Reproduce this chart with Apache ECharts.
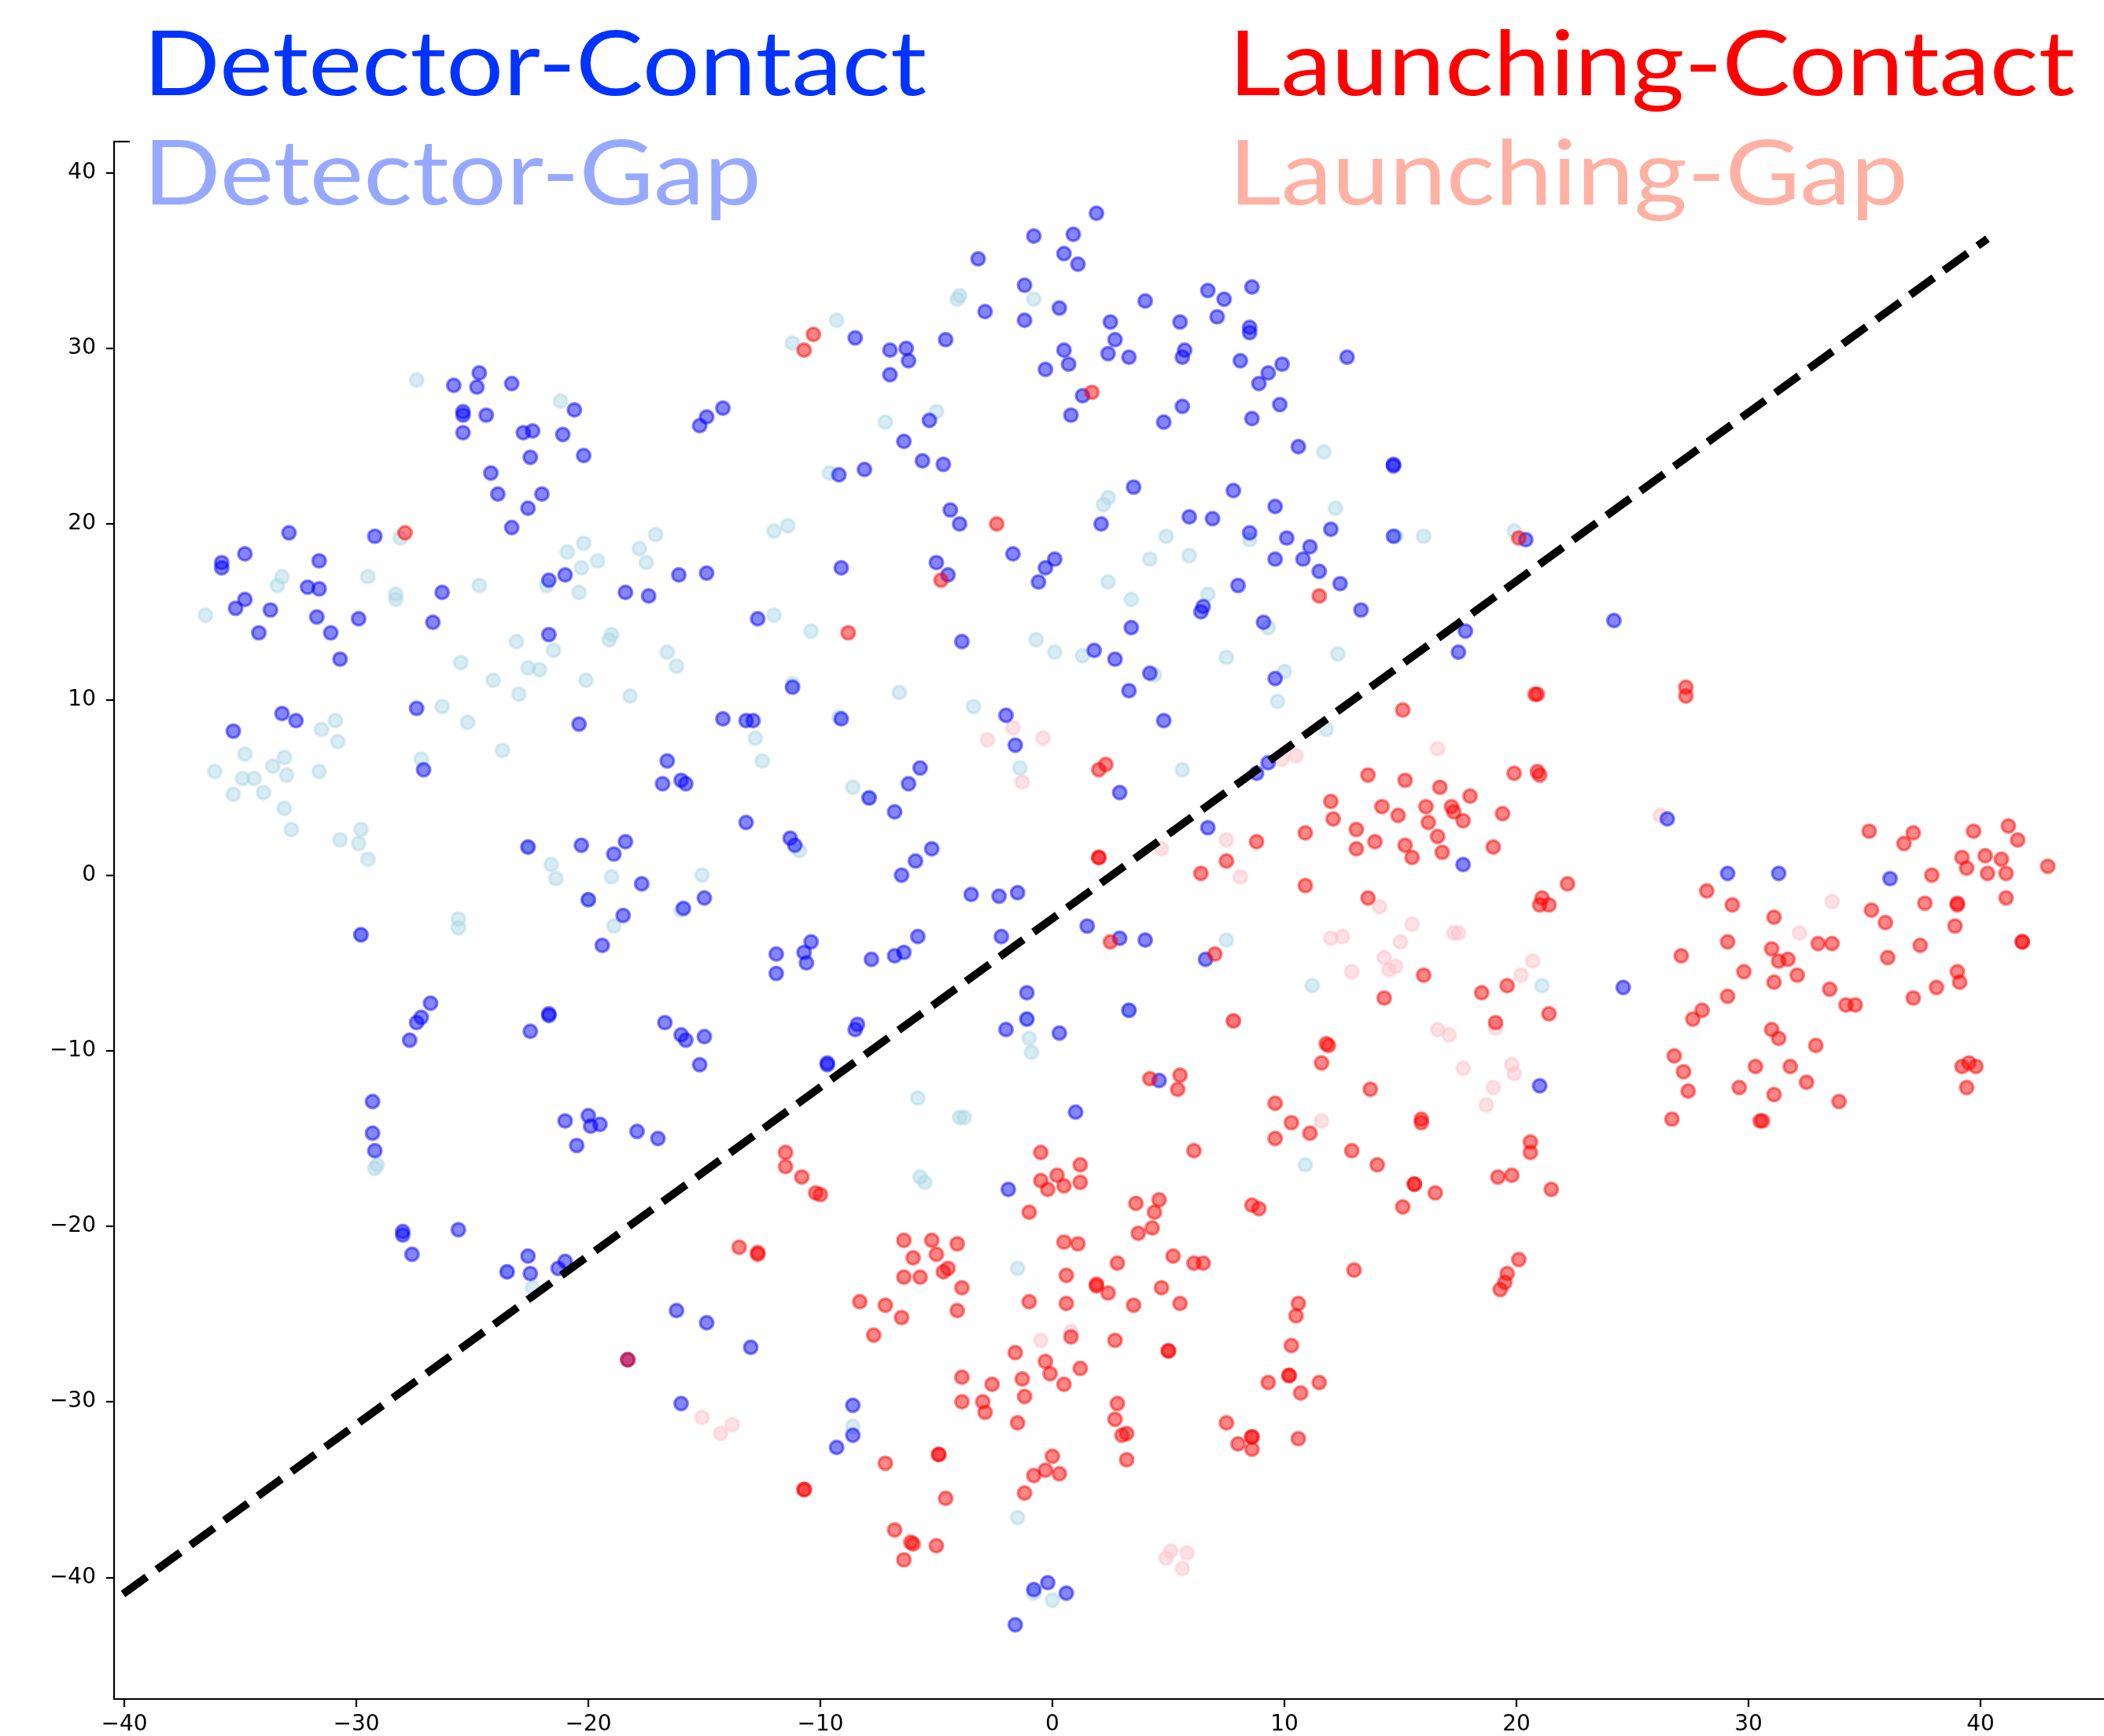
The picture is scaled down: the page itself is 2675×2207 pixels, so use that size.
<!DOCTYPE html>
<html>
<head>
<meta charset="utf-8">
<script src="https://cdn.jsdelivr.net/npm/echarts@6.0.0/dist/echarts.min.js"></script>
<style>
html, body { margin: 0; padding: 0; background: #fff; }
#chart { width: 2675px; height: 2207px; }
</style>
</head>
<body>
<div id="chart"></div>
<script>
// series values, [x, y]
var detectorContact = [
  [-25.8,27.9],[-24.7,28.6],[-24.8,27.8],[-23.3,28.0],[-25.4,26.4],[-25.4,26.2],[-24.4,26.2],[-20.6,26.5],[-25.4,25.2],[-22.8,25.2],
  [-22.4,25.3],[-21.1,25.1],[-22.5,23.8],[-20.2,23.9],[-24.2,22.9],[-23.9,21.7],[-22.0,21.7],[-22.6,20.9],[-23.3,19.8],[-15.2,25.6],
  [-14.9,26.1],[-14.2,26.6],[-32.9,19.5],[-29.2,19.3],[-35.8,17.8],[-35.8,17.5],[-34.8,18.3],[-31.6,17.9],[-32.1,16.4],[-31.6,16.3],
  [-26.3,16.1],[-21.7,16.8],[-21.0,17.1],[-18.4,16.1],[-17.4,15.9],[-16.1,17.1],[-14.9,17.2],[-34.8,15.7],[-35.2,15.2],[-33.7,15.1],
  [-31.7,14.7],[-29.9,14.6],[-26.7,14.4],[-34.2,13.8],[-31.1,13.8],[-21.7,13.7],[-12.7,14.6],
  [-30.7,12.3],[-27.4,9.5],[-20.4,8.6],[-33.2,9.2],[-32.6,8.8],[-35.3,8.2],[-27.1,6.0],[-14.2,8.9],[-13.2,8.8],[-12.9,8.8],
  [-16.6,6.5],[-16.8,5.2],[-16.0,5.4],[-15.8,5.2],[-13.2,3.0],[-22.6,1.6],[-20.3,1.7],[-18.4,1.9],[-18.9,1.2],[-17.7,-0.5],
  [-15.0,-1.3],[-20.0,-1.4],[-15.9,-1.9],[-18.5,-2.3],[-19.4,-4.0],[-29.8,-3.4],[-11.9,-4.5],[-11.9,-5.6],[-26.8,-7.3],[-27.2,-8.1],
  [-27.4,-8.4],[-27.7,-9.4],[-21.7,-8.0],[-21.7,-7.9],[-22.5,-8.9],[-16.7,-8.4],[-16.0,-9.1],[-15.8,-9.4],[-15.0,-9.2],[-15.2,-10.8],
  [-29.3,-12.9],[-29.3,-14.7],[-29.2,-15.7],[-21.0,-14.0],[-20.0,-13.7],[-19.9,-14.3],[-19.5,-14.2],[-17.9,-14.6],[-17.0,-15.0],[-20.5,-15.4],
  [-28.0,-20.3],[-28.0,-20.5],[-25.6,-20.2],[-27.6,-21.6],[-22.6,-21.7],[-22.5,-22.7],[-23.5,-22.6],[-21.3,-22.4],[-21.0,-22.0],[-16.2,-24.8],
  [-14.9,-25.5],[-13.0,-26.9],[-18.3,-27.6],[-16.0,-30.1],
  [1.9,37.7],[-0.8,36.4],[0.9,36.5],[0.5,35.4],[1.1,34.8],[-3.2,35.1],[-1.2,33.6],[0.3,32.3],[-2.9,32.1],[-1.2,31.6],
  [4.0,32.7],[6.7,33.3],[7.4,32.8],[8.6,33.5],[7.1,31.8],[5.5,31.5],[8.5,31.2],[8.5,30.9],[2.5,31.5],[2.7,30.5],
  [0.5,29.9],[2.4,29.7],[3.3,29.5],[5.7,29.9],[5.6,29.5],[0.7,29.1],[-0.3,28.8],[8.1,29.3],[9.9,29.1],[9.3,28.6],
  [8.9,28.0],[12.7,29.5],[1.3,27.3],[0.8,26.2],[5.6,26.7],[4.8,25.8],[8.6,26.0],[9.8,26.8],[-8.5,30.6],[-7.0,29.9],
  [-6.3,30.0],[-6.2,29.3],[-7.0,28.5],[-4.6,30.5],[-5.3,25.9],[-6.4,24.7],[-5.6,23.6],[-4.7,23.4],[-9.2,22.8],[-8.1,23.1],
  [10.6,24.4],[14.7,23.3],[14.7,23.4],[3.5,22.1],[7.8,21.9],[-4.4,20.8],[-4.0,20.0],[2.1,20.0],[5.9,20.4],[6.9,20.3],
  [9.6,21.0],[8.5,19.5],[10.1,19.2],[12.0,19.7],[14.7,19.3],[11.1,18.7],[10.8,18.0],[9.6,18.0],[11.5,17.3],[12.4,16.6],
  [13.3,15.1],[-9.1,17.5],[-5.0,17.8],[-4.5,17.1],[-1.7,18.3],[0.1,18.0],[-0.3,17.5],[-0.6,16.7],[8.0,16.5],[6.5,15.3],
  [6.4,15.0],[9.1,14.4],[3.4,14.1],[-3.9,13.3],[1.8,12.8],
  [2.7,12.3],[9.6,11.2],[4.2,11.5],[3.3,10.5],[4.8,8.8],[-11.2,10.7],[-9.1,8.9],[-2.0,9.1],[-1.6,7.4],[-5.7,6.1],
  [-6.2,5.2],[-7.9,4.4],[-6.8,3.6],[2.9,4.7],[8.8,5.8],[9.3,6.4],[6.7,2.7],[-11.3,2.1],[-11.1,1.7],[-5.2,1.5],
  [-5.9,0.8],[-6.5,0.0],[-3.5,-1.1],[-2.3,-1.2],[-1.5,-1.0],[1.5,-2.9],[2.9,-3.6],[4.0,-3.7],[6.6,-4.8],[-10.4,-3.8],
  [-10.7,-4.4],[-10.6,-5.0],[-5.8,-3.5],[-7.8,-4.8],[-6.8,-4.6],[-6.4,-4.4],[-2.2,-3.5],[-1.1,-6.7],[-1.1,-8.2],[-2.0,-8.8],
  [0.3,-9.0],[3.3,-7.7],[-8.4,-8.5],[-8.5,-8.8],[-9.7,-10.7],[-9.7,-10.8],[4.6,-11.7],[1.0,-13.5],
  [-1.9,-17.9],[-8.6,-30.2],[-8.6,-31.9],[-9.3,-32.6],[-0.2,-40.3],[-0.8,-40.7],[0.6,-40.9],[-1.6,-42.7],
  [20.4,19.1],[17.8,13.9],[24.2,14.5],[17.5,12.7],[17.7,0.6],[26.5,3.2],[24.6,-6.4],[21.0,-12.0],[36.1,-0.2],[29.1,0.1],[31.3,0.1]
];

var detectorGap = [
  [-27.4,28.2],[-21.2,27.0],[-28.1,19.2],[-20.2,18.9],[-20.9,18.4],[-19.6,17.9],[-20.3,17.5],[-17.8,18.6],[-17.1,19.4],[-17.5,17.8],
  [-12.0,19.6],[-33.2,17.0],[-33.4,16.5],[-29.5,17.0],[-28.3,16.0],[-28.3,15.7],[-24.7,16.5],[-21.8,16.5],[-20.4,16.1],[-36.5,14.8],
  [-23.1,13.3],[-19.0,13.7],[-19.1,13.4],[-12.0,14.8],
  [-25.5,12.1],[-21.5,12.8],[-16.6,12.7],[-16.2,11.9],[-22.6,11.8],[-22.1,11.7],[-24.1,11.1],[-20.1,11.1],[-23.0,10.3],[-18.2,10.2],
  [-26.3,9.6],[-25.2,8.7],[-30.9,8.8],[-31.5,8.3],[-30.8,7.6],[-23.7,7.1],[-27.2,6.6],[-34.8,6.9],[-33.1,6.7],[-33.6,6.2],
  [-36.1,5.9],[-34.9,5.5],[-34.4,5.5],[-33.0,5.7],[-31.6,5.9],[-35.3,4.6],[-34.0,4.7],[-33.1,3.8],[-32.8,2.6],[-29.8,2.6],
  [-30.7,2.0],[-29.9,1.8],[-29.5,0.9],[-12.8,7.8],[-12.5,6.5],[-22.6,1.6],[-21.6,0.6],[-21.4,-0.2],[-19.0,-0.1],[-15.1,0.0],
  [-20.0,-1.4],[-16.0,-2.0],[-18.9,-2.9],[-25.6,-2.5],[-25.6,-3.0],[-29.8,-3.4],[-29.1,-16.5],[-29.2,-16.7],
  [-23.5,-22.6],[-22.4,-23.5],
  [-4.0,33.0],[-4.1,32.8],[-0.8,32.8],[-9.3,31.6],[-11.2,30.3],[-7.2,25.8],[-5.0,26.4],[-9.6,22.9],[11.7,24.1],[2.4,21.5],
  [2.2,21.1],[12.2,20.9],[4.9,19.3],[8.5,19.1],[14.8,19.3],[16.0,19.3],[-11.4,19.9],[4.2,18.0],[5.9,18.2],[2.4,16.7],
  [3.4,15.7],[6.7,16.0],[9.3,14.1],[-10.4,13.9],[-0.7,13.4],
  [0.1,12.7],[1.3,12.5],[7.5,12.4],[12.3,12.6],[10.0,11.6],[4.4,11.4],[9.7,9.9],[-11.2,10.9],[-6.6,10.4],[-3.4,9.6],
  [-9.2,9.0],[-1.4,6.1],[-8.6,5.0],[-7.9,4.4],[5.6,6.0],[11.8,8.3],[-10.9,1.4],[7.5,-3.7],[11.2,-6.3],[-1.1,-8.2],
  [-1.0,-9.3],[-0.9,-10.1],[3.3,-7.7],[-5.8,-12.7],[-4.0,-13.8],[-3.8,-13.8],[10.9,-16.5],[-5.7,-17.2],[-5.5,-17.5],
  [-1.5,-22.4],[-8.6,-31.4],[-1.5,-36.6],[-0.8,-40.9],[0.0,-41.3],
  [19.9,19.6],[21.1,-6.3]
];

var launchingContact = [
  [-27.9,19.5],[-13.5,-21.2],[-12.7,-21.6],[-12.7,-21.5],[-18.3,-27.6],
  [1.7,27.5],[-10.3,30.8],[-10.7,29.9],[-2.4,20.0],[-4.8,16.8],[11.5,15.9],[-8.8,13.8],
  [15.1,9.4],[2.0,6.0],[2.3,6.3],[13.6,5.7],[15.2,5.4],[16.7,5.0],[12.0,4.2],[14.2,3.9],[14.9,3.4],[16.1,3.9],
  [16.2,3.0],[12.1,3.2],[13.1,2.6],[10.9,2.4],[13.9,1.9],[15.2,1.7],[16.6,2.2],[13.1,1.5],[15.5,1.0],[16.8,1.3],
  [8.8,1.9],[7.5,0.8],[6.4,0.1],[10.9,-0.6],[2.0,1.0],[2.0,1.0],[2.5,-3.8],[7.0,-4.5],[13.6,-1.3],[16.0,-5.7],
  [14.3,-7.0],[7.8,-8.3],[11.9,-9.7],[11.8,-9.6],[11.6,-10.7],[13.7,-12.2],[4.2,-11.6],[5.5,-11.4],[5.4,-12.2],[15.9,-13.9],
  [15.9,-14.1],[9.6,-13.0],[10.3,-14.1],[11.1,-14.7],[9.6,-15.0],[6.1,-15.7],[12.9,-15.7],[14.0,-16.5],[-0.5,-15.8],[1.2,-16.5],
  [-11.5,-15.8],[-11.5,-16.6],
  [-10.8,-17.2],[-10.2,-18.1],[-10.0,-18.2],[-0.5,-17.4],[-0.2,-17.9],[0.2,-17.1],[0.5,-17.7],[1.2,-17.5],[-1.0,-19.2],[3.6,-18.7],
  [4.6,-18.5],[4.4,-19.2],[4.3,-20.1],[3.7,-20.4],[8.6,-18.8],[8.9,-19.0],[15.6,-17.6],[15.6,-17.6],[16.5,-18.1],[15.1,-18.9],
  [-6.4,-20.8],[-5.2,-20.8],[-4.1,-21.0],[-6.0,-21.8],[-5.0,-21.6],[-6.4,-22.9],[-5.7,-22.9],[-4.7,-22.6],[-4.5,-22.4],[-3.9,-23.5],
  [-8.3,-24.3],[-7.2,-24.5],[-6.5,-25.2],[-4.1,-24.8],[-7.7,-26.2],[0.5,-20.9],[1.1,-21.0],[0.6,-22.8],[-1.0,-24.3],[0.6,-24.4],
  [1.9,-23.4],[1.9,-23.3],[2.4,-23.8],[2.8,-22.1],[5.2,-21.7],[6.1,-22.1],[6.5,-22.1],[4.7,-23.5],[3.5,-24.5],[5.5,-24.4],
  [13.0,-22.5],[0.8,-26.3],[2.7,-26.5],[5.0,-27.1],[5.0,-27.1],[-1.6,-27.2],[-0.3,-27.7],[-0.1,-28.4],[1.2,-28.1],[0.5,-29.0],
  [-3.9,-28.6],[-2.6,-29.0],[-1.3,-28.7],[-1.2,-29.7],[-3.9,-30.0],[-3.0,-30.0],[-2.9,-30.6],[-1.5,-31.2],[10.6,-24.4],[10.5,-25.1],
  [10.3,-26.8],[10.2,-28.5],[10.2,-28.5],[9.3,-28.9],[11.5,-28.9],[10.7,-29.5],[2.8,-30.1],[2.7,-31.0],[3.0,-31.9],[3.2,-31.8],
  [3.2,-33.3],[7.5,-31.2],[8.6,-32.0],[8.6,-32.0],[8.0,-32.4],[8.6,-32.7],[10.6,-32.1],[-7.2,-33.5],[-4.9,-33.0],[-4.9,-33.0],
  [-10.7,-35.0],[-10.7,-35.0],[-4.6,-35.5],[0.0,-33.1],[-0.8,-34.2],[-0.3,-33.9],[0.3,-34.1],[-1.2,-35.2],[-6.8,-37.3],[-6.1,-38.0],
  [-6.0,-38.1],[-5.0,-38.2],[-6.4,-39.0],
  [20.1,19.2],[20.8,10.3],[20.9,10.3],[27.3,10.7],[27.3,10.2],[19.9,5.8],[20.9,5.9],[21.0,5.7],[18.0,4.5],[17.2,3.9],
  [17.3,3.6],[17.7,3.1],[19.4,3.5],[19.0,1.6],[22.2,-0.5],[21.1,-1.3],[21.0,-1.7],[21.4,-1.7],[19.6,-6.3],[18.5,-6.7],
  [21.4,-7.9],[19.1,-8.4],[20.6,-15.2],[20.6,-15.8],[35.2,2.5],[37.1,2.4],[36.7,1.8],[39.7,2.5],[41.2,2.8],[41.6,2.0],
  [39.2,1.0],[40.2,1.1],[40.9,0.9],[39.4,0.4],[40.3,0.1],[41.1,0.1],[42.9,0.5],[37.9,0.0],[28.2,-0.9],[29.3,-1.7],
  [35.3,-2.0],[37.6,-1.6],[39.0,-1.6],[39.0,-1.7],[41.1,-1.3],[31.1,-2.4],[35.9,-2.7],[38.9,-2.9],[29.1,-3.8],[33.0,-3.9],
  [33.6,-3.9],[37.4,-4.0],[36.0,-4.7],[31.0,-4.2],[31.3,-4.9],[31.7,-4.8],[27.1,-4.6],[32.1,-5.7],[29.8,-5.5],[31.1,-6.1],
  [33.5,-6.5],[39.0,-5.5],[39.1,-6.1],[38.1,-6.4],[37.1,-7.0],[34.2,-7.4],[34.6,-7.4],[29.1,-6.9],[28.0,-7.7],[27.6,-8.2],
  [31.0,-8.8],[31.3,-9.3],[32.9,-9.7],[26.8,-10.3],[27.2,-11.2],[27.4,-12.3],[30.3,-10.9],[31.8,-10.9],[32.5,-11.8],[29.6,-12.1],
  [31.1,-12.5],[33.9,-12.9],[26.7,-13.9],[30.5,-14.0],[30.6,-14.0],[39.2,-10.9],[39.5,-10.7],[39.8,-10.9],[39.4,-12.1],[41.8,-3.8],
  [41.8,-3.8],[19.2,-17.2],[19.8,-17.1],[21.5,-17.9],[20.1,-21.9],[19.6,-22.7],[19.5,-23.2],[19.3,-23.6]
];

var launchingGap = [
  [-15.1,-30.9],[-14.3,-31.8],[-13.8,-31.3],
  [-1.7,8.4],[-2.8,7.7],[-0.4,7.8],[-1.3,5.3],[9.9,6.6],[10.5,6.8],[16.6,7.2],[7.5,2.0],[4.7,1.5],[8.1,-0.1],
  [14.1,-1.8],[15.5,-2.8],[12.0,-3.6],[12.5,-3.5],[15.0,-3.8],[14.3,-4.7],[14.8,-5.2],[14.5,-5.4],[12.9,-5.5],[7.8,-8.3],
  [16.6,-8.8],[11.6,-14.0],
  [26.2,3.4],[17.3,-3.3],[17.5,-3.3],[20.7,-4.9],[20.2,-5.7],[19.1,-8.7],[17.1,-9.1],[17.7,-11.0],[19.8,-10.8],[19.9,-11.3],
  [19.0,-12.1],[18.7,-13.1],[33.6,-1.5],[32.2,-3.3],
  [-0.5,-26.5],[0.8,-26.0],[5.1,-38.5],[5.8,-38.6],[4.9,-38.9],[5.6,-39.5]
];

// dashed separating line, two end points
var boundaryX = [-40.05, 40.3];
var boundaryY = [-40.95, 36.25];

// tick labels
var tickValues = [-40, -30, -20, -10, 0, 10, 20, 30, 40];

var groupNames = ['Detector-Contact', 'Detector-Gap', 'Launching-Contact', 'Launching-Gap'];
var groupColors = ['#0033ff', '#97a9ff', '#ff0000', '#ffb1a3'];

var chart = echarts.init(document.getElementById('chart'), null, {renderer: 'canvas'});

function dotSeries(name, data, rgb) {
  var c = 'rgba(' + rgb + ',0.6)';
  return {
    name: name,
    type: 'scatter',
    data: data,
    symbol: 'circle',
    symbolSize: 16.7,
    itemStyle: {color: c, borderColor: c, borderWidth: 3.5},
    emphasis: {disabled: true},
    z: 2
  };
}

// scale a title so its width matches the picture
var measureCtx = document.createElement('canvas').getContext('2d');
var titleFont = 'normal 114px Lato';
function titleText(i, left, top, width) {
  measureCtx.font = titleFont;
  var w = measureCtx.measureText(groupNames[i]).width;
  return {
    type: 'text',
    x: left,
    y: top,
    scaleX: width / w,
    style: {text: groupNames[i], font: titleFont, fill: groupColors[i], verticalAlign: 'top', align: 'left'}
  };
}

function minusFmt(v) {
  return v < 0 ? '\u2212' + Math.abs(v) : String(v);
}

var axisCommon = {
  axisLine: {show: true, onZero: false, lineStyle: {color: '#000', width: 2.2}},
  axisTick: {show: true, inside: false, length: 10, lineStyle: {color: '#000', width: 2.2}, customValues: tickValues},
  axisLabel: {color: '#000', fontFamily: 'DejaVu Sans', fontSize: 28, formatter: minusFmt, customValues: tickValues},
  splitLine: {show: false}
};

chart.setOption({
  animation: false,
  backgroundColor: '#fff',
  grid: {left: 145, right: 0, top: 180, bottom: 46, containLabel: false},
  xAxis: echarts.util.merge({type: 'value', min: -40.44, max: 45.32,
    axisLabel: {margin: 19}}, axisCommon, false),
  yAxis: echarts.util.merge({type: 'value', min: -46.93, max: 41.78,
    axisLabel: {margin: 23}}, axisCommon, false),
  series: [
    dotSeries(groupNames[1], detectorGap, '173,216,230'),
    dotSeries(groupNames[3], launchingGap, '255,192,203'),
    dotSeries(groupNames[0], detectorContact, '0,0,255'),
    dotSeries(groupNames[2], launchingContact, '255,0,0'),
    {
      type: 'line',
      data: [[boundaryX[0], boundaryY[0]], [boundaryX[1], boundaryY[1]]],
      symbol: 'none',
      silent: true,
      lineStyle: {color: '#000', width: 10, type: [37, 16], cap: 'butt'},
      z: 5
    }
  ],
  graphic: [
    titleText(0, 182, 27, 996),
    titleText(1, 182, 166, 786),
    titleText(2, 1562, 27, 1076),
    titleText(3, 1562, 166, 864),
    {type: 'line', shape: {x1: 145, y1: 180, x2: 165, y2: 180}, style: {stroke: '#000', lineWidth: 2.2}}
  ]
});
</script>
</body>
</html>
